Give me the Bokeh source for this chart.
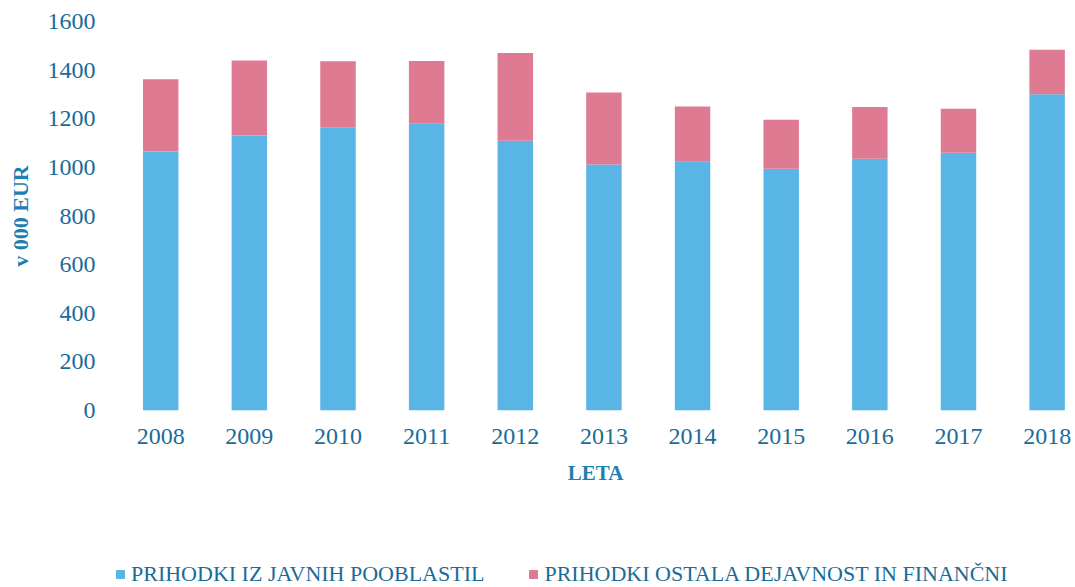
from bokeh.plotting import figure
from bokeh.layouts import column
from bokeh.models import Range1d, FixedTicker, Legend, LegendItem, ColumnDataSource
from bokeh.embed import file_html
from bokeh.resources import INLINE

years = [2008, 2009, 2010, 2011, 2012, 2013, 2014, 2015, 2016, 2017, 2018]
javni = [1065, 1131, 1165, 1182, 1109, 1012, 1023, 994, 1035, 1060, 1301]
ostalo = [297, 309, 271, 256, 361, 296, 227, 202, 213, 181, 183]
y_ticks = [0, 200, 400, 600, 800, 1000, 1200, 1400, 1600]
labels = ["PRIHODKI IZ JAVNIH POOBLASTIL", "PRIHODKI OSTALA DEJAVNOST IN FINANČNI"]
colors = ["#58b5e5", "#de7a91"]

FONT = "Liberation Serif"
TICK_COL = "#1a6c98"
LAB_COL = "#1f7fb3"

src = ColumnDataSource(dict(year=years, javni=javni, ostalo=ostalo))

p = figure(width=1075, height=540, output_backend="svg", toolbar_location=None,
           x_range=Range1d(2007.49, 2018.32), y_range=Range1d(0, 1600),
           min_border_top=21, min_border_bottom=130, min_border_left=115,
           min_border_right=0)

rs = p.vbar_stack(["javni", "ostalo"], x="year", width=0.4, source=src,
                  color=colors, line_color=None)

p.xaxis.ticker = FixedTicker(ticks=years)
p.yaxis.ticker = FixedTicker(ticks=y_ticks)
for ax in (p.xaxis, p.yaxis):
    ax.axis_line_color = None
    ax.major_tick_line_color = None
    ax.minor_tick_line_color = None
    ax.major_tick_out = 0
    ax.major_tick_in = 0
    ax.major_label_text_font = FONT
    ax.major_label_text_font_size = "24px"
    ax.major_label_text_color = TICK_COL
    ax.axis_label_text_font = FONT
    ax.axis_label_text_font_style = "bold"
    ax.axis_label_text_color = LAB_COL

p.xaxis.axis_label = "LETA"
p.xaxis.axis_label_text_font_size = "21px"
p.xaxis.major_label_standoff = 18
p.xaxis.axis_label_standoff = 14
p.yaxis.axis_label = "v 000 EUR"
p.yaxis.axis_label_text_font_size = "22px"
p.yaxis.major_label_standoff = 20
p.yaxis.axis_label_standoff = 12

p.xgrid.grid_line_color = None
p.ygrid.grid_line_color = None
p.outline_line_color = None

# legend strip below the chart (its bars sit outside its visible range)
q = figure(width=1075, height=47, output_backend="svg", toolbar_location=None,
           x_range=Range1d(0, 1), y_range=Range1d(0, 1),
           min_border_top=0, min_border_bottom=0, min_border_left=0,
           min_border_right=0)
q.axis.visible = False
q.grid.visible = False
q.outline_line_color = None
k0 = q.vbar(x="year", top="javni", width=0.4, source=src, color=colors[0])
k1 = q.vbar(x="year", top="ostalo", width=0.4, source=src, color=colors[1])

legend = Legend(items=[LegendItem(label=labels[0], renderers=[k0]),
                       LegendItem(label=labels[1], renderers=[k1])],
                orientation="horizontal", location=(0, 0),
                border_line_color=None, background_fill_alpha=0,
                padding=0, margin=0, spacing=44, label_standoff=6,
                glyph_width=10, glyph_height=10,
                label_text_font=FONT, label_text_font_size="22px",
                label_text_color=TICK_COL)
q.add_layout(legend)

layout = column(p, q, spacing=0)
open("out.html", "w").write(file_html(layout, INLINE))
